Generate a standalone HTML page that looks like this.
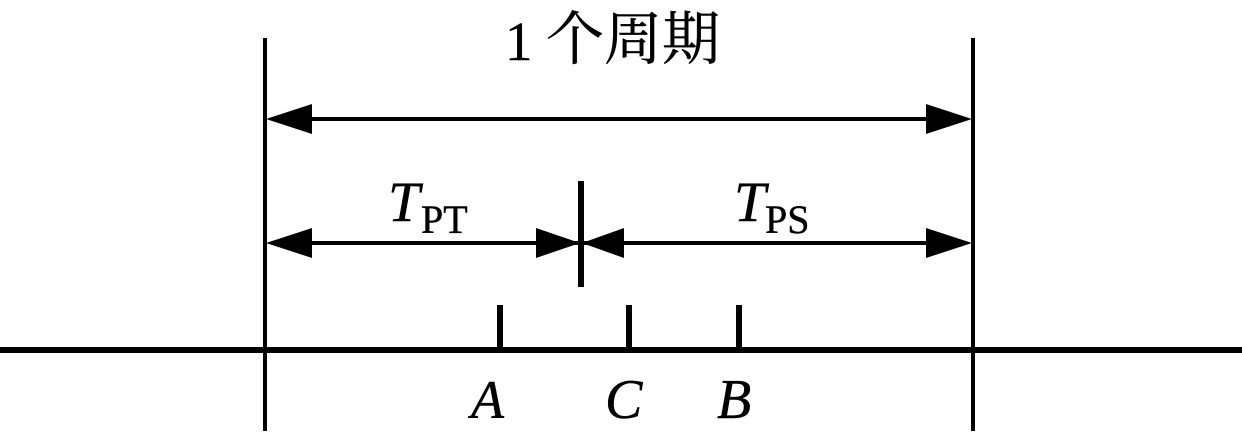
<!DOCTYPE html>
<html><head><meta charset="utf-8"><style>html,body{margin:0;padding:0;background:#fff}svg{display:block}text{font-family:"Liberation Serif","Noto Serif CJK SC",serif;fill:#000;stroke:#000;stroke-width:.4px}</style></head><body>
<svg width="1242" height="437" viewBox="0 0 1242 437" xmlns="http://www.w3.org/2000/svg">
<rect width="1242" height="437" fill="#fff"/>
<g stroke="#000" fill="none">
<line x1="265" y1="38" x2="265" y2="431" stroke-width="4"/>
<line x1="973" y1="38" x2="973" y2="431" stroke-width="4"/>
<line x1="0" y1="350" x2="1242" y2="350" stroke-width="6"/>
<line x1="300" y1="119" x2="940" y2="119" stroke-width="4"/>
<line x1="300" y1="243" x2="940" y2="243" stroke-width="4"/>
<line x1="581" y1="181" x2="581" y2="287" stroke-width="6"/>
<line x1="500" y1="305" x2="500" y2="350" stroke-width="6"/>
<line x1="629" y1="305" x2="629" y2="350" stroke-width="6"/>
<line x1="739" y1="305" x2="739" y2="350" stroke-width="6"/>
</g>
<g fill="#000">
<polygon points="266,119 312,104 312,134"/>
<polygon points="972,119 926,104 926,134"/>
<polygon points="266,243 312,228 312,258"/>
<polygon points="972,243 926,228 926,258"/>
<polygon points="580,243 536,228 536,258"/>
<polygon points="582,243 624,228 624,258"/>
</g>
<text x="505" y="60" font-size="55">1</text>
<text x="546" y="59" font-size="58">个周期</text>
<text x="388" y="221" font-size="57" font-style="italic">T</text>
<text x="421" y="233" font-size="40">PT</text>
<text x="734" y="221" font-size="57" font-style="italic">T</text>
<text x="765" y="233" font-size="40">PS</text>
<text x="471" y="418" font-size="54" font-style="italic">A</text>
<text x="605" y="418" font-size="56" font-style="italic">C</text>
<text x="717" y="418" font-size="56" font-style="italic">B</text>
</svg>
</body></html>
